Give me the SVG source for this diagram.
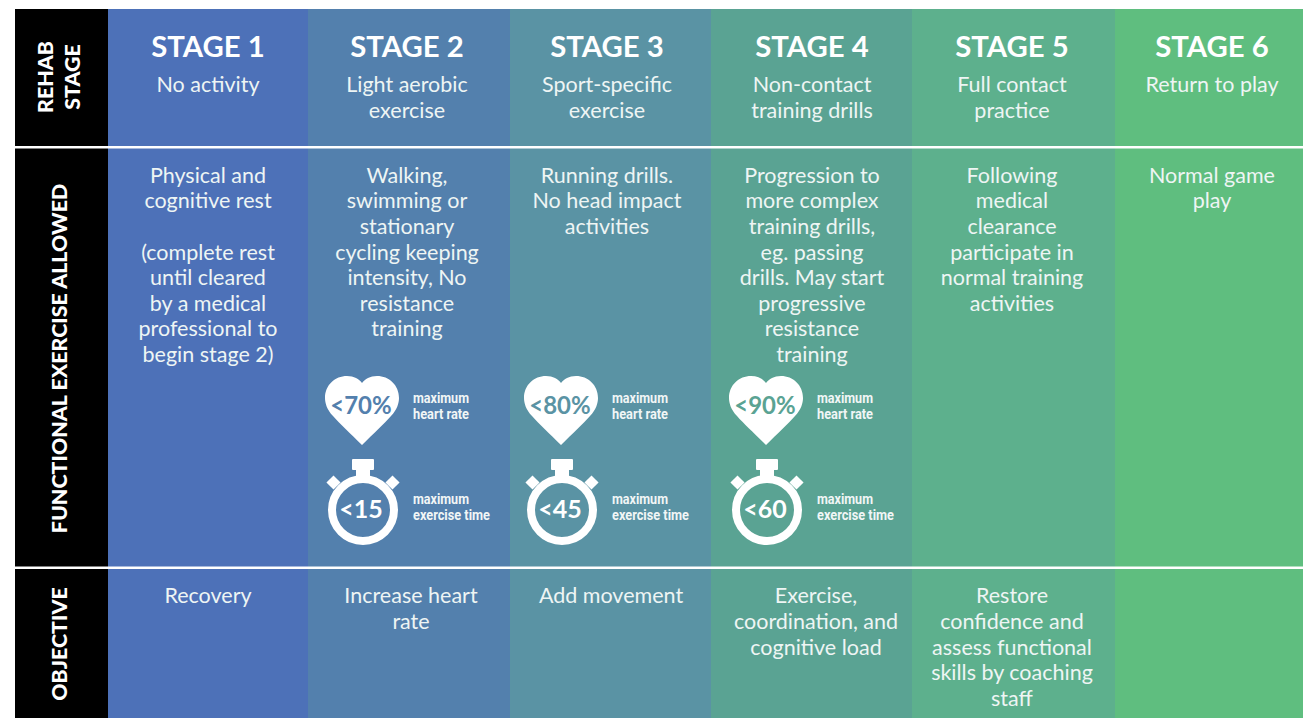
<svg xmlns="http://www.w3.org/2000/svg" xmlns:xlink="http://www.w3.org/1999/xlink" width="1303" height="718" viewBox="0 0 1303 718">
<style>
text{font-family:"Lato","Open Sans","Liberation Sans",sans-serif;fill:#fff}
.t{font-size:21.5px;text-anchor:middle;fill:#eef5f4}
.h{font-size:29.300px;font-weight:700;text-anchor:middle}
.s{font-size:21.400px;font-weight:900;text-anchor:middle}
.p{font-size:24px;font-weight:700;text-anchor:middle}
.m{font-size:25px;font-weight:700;text-anchor:middle}
.c{font-family:"Roboto","Liberation Sans",sans-serif;font-size:15.500px;font-weight:700;fill:#f1f6f6}
</style>
<defs>
<path id="heart" d="M362 445 C350 433 340 424 333 416 C327 410 325 403 325 398 C325 385 335 376 347 376 C354 376 359 379 362 383 C365 379 370 376 377 376 C389 376 399 385 399 398 C399 403 397 410 391 416 C384 424 374 433 362 445 Z" fill="#fff"/>
<g id="watch" fill="#fff">
<rect x="352" y="459" width="22" height="11" rx="1"/>
<rect x="356" y="469" width="14" height="7"/>
<rect x="-5" y="-5" width="10" height="10" transform="translate(333.500 482.500) rotate(45)"/>
<rect x="-5" y="-5" width="10" height="10" transform="translate(392.500 482.500) rotate(45)"/>
<circle cx="363" cy="510" r="31" fill="none" stroke="#fff" stroke-width="8"/>
</g>
</defs>
<rect width="1303" height="718" fill="#fff"/>
<g id="columns">
<rect x="15" y="9" width="93" height="709" fill="#000"/>
<rect x="108" y="9" width="200" height="709" fill="#4d71b8"/>
<rect x="308" y="9" width="202" height="709" fill="#5380ad"/>
<rect x="510" y="9" width="201" height="709" fill="#5a93a4"/>
<rect x="711" y="9" width="201" height="709" fill="#5aa393"/>
<rect x="912" y="9" width="203" height="709" fill="#5db08d"/>
<rect x="1115" y="9" width="188" height="709" fill="#5fbe7f"/>
</g>
<g id="rules" fill="#fff">
<rect x="15" y="146" width="1288" height="2.500"/>
<rect x="15" y="566.500" width="1288" height="2.500"/>
</g>
<g id="row-labels">
<text class="s" transform="translate(53 77) rotate(-90)">REHAB</text>
<text class="s" transform="translate(80 77) rotate(-90)">STAGE</text>
<text class="s" transform="translate(67 358.500) rotate(-90)">FUNCTIONAL EXERCISE ALLOWED</text>
<text class="s" transform="translate(67 644) rotate(-90)">OBJECTIVE</text>
</g>
<g id="stage-1">
<text class="h" x="208" y="57">STAGE 1</text>
<text class="t" x="208" y="92">No activity</text>
<text class="t" x="208"><tspan x="208" y="183">Physical and</tspan><tspan x="208" y="208">cognitive rest</tspan><tspan x="208" y="260">(complete rest</tspan><tspan x="208" y="285">until cleared</tspan><tspan x="208" y="311">by a medical</tspan><tspan x="208" y="336">professional to</tspan><tspan x="208" y="362">begin stage 2)</tspan></text>
<text class="t" x="208" y="603">Recovery</text>
</g>
<g id="stage-2">
<text class="h" x="407" y="57">STAGE 2</text>
<text class="t"><tspan x="407" y="92">Light aerobic</tspan><tspan x="407" y="118">exercise</tspan></text>
<text class="t"><tspan x="407" y="183">Walking,</tspan><tspan x="407" y="208">swimming or</tspan><tspan x="407" y="234">stationary</tspan><tspan x="407" y="260">cycling keeping</tspan><tspan x="407" y="285">intensity, No</tspan><tspan x="407" y="311">resistance</tspan><tspan x="407" y="336">training</tspan></text>
<use href="#heart"/>
<text class="p" x="361" y="414" style="fill:#5380ad">&lt;70%</text>
<use href="#watch"/>
<text class="m" x="361" y="518">&lt;15</text>
<text class="c"><tspan x="413" y="403" textLength="56" lengthAdjust="spacingAndGlyphs">maximum</tspan></text>
<text class="c"><tspan x="413" y="419" textLength="56" lengthAdjust="spacingAndGlyphs">heart rate</tspan></text>
<text class="c"><tspan x="413" y="504" textLength="56" lengthAdjust="spacingAndGlyphs">maximum</tspan></text>
<text class="c"><tspan x="413" y="520" textLength="77" lengthAdjust="spacingAndGlyphs">exercise time</tspan></text>
<text class="t"><tspan x="411" y="603">Increase heart</tspan><tspan x="411" y="629">rate</tspan></text>
</g>
<g id="stage-3">
<text class="h" x="607" y="57">STAGE 3</text>
<text class="t"><tspan x="607" y="92">Sport-specific</tspan><tspan x="607" y="118">exercise</tspan></text>
<text class="t"><tspan x="607" y="183">Running drills.</tspan><tspan x="607" y="208">No head impact</tspan><tspan x="607" y="234">activities</tspan></text>
<use href="#heart" x="199"/>
<text class="p" x="560" y="414" style="fill:#5a93a4">&lt;80%</text>
<use href="#watch" x="199"/>
<text class="m" x="560" y="518">&lt;45</text>
<text class="c"><tspan x="612" y="403" textLength="56" lengthAdjust="spacingAndGlyphs">maximum</tspan></text>
<text class="c"><tspan x="612" y="419" textLength="56" lengthAdjust="spacingAndGlyphs">heart rate</tspan></text>
<text class="c"><tspan x="612" y="504" textLength="56" lengthAdjust="spacingAndGlyphs">maximum</tspan></text>
<text class="c"><tspan x="612" y="520" textLength="77" lengthAdjust="spacingAndGlyphs">exercise time</tspan></text>
<text class="t" x="611" y="603">Add movement</text>
</g>
<g id="stage-4">
<text class="h" x="812" y="57">STAGE 4</text>
<text class="t"><tspan x="812" y="92">Non-contact</tspan><tspan x="812" y="118">training drills</tspan></text>
<text class="t"><tspan x="812" y="183">Progression to</tspan><tspan x="812" y="208">more complex</tspan><tspan x="812" y="234">training drills,</tspan><tspan x="812" y="260">eg. passing</tspan><tspan x="812" y="285">drills. May start</tspan><tspan x="812" y="311">progressive</tspan><tspan x="812" y="336">resistance</tspan><tspan x="812" y="362">training</tspan></text>
<use href="#heart" x="404"/>
<text class="p" x="765" y="414" style="fill:#5aa393">&lt;90%</text>
<use href="#watch" x="404"/>
<text class="m" x="765" y="518">&lt;60</text>
<text class="c"><tspan x="817" y="403" textLength="56" lengthAdjust="spacingAndGlyphs">maximum</tspan></text>
<text class="c"><tspan x="817" y="419" textLength="56" lengthAdjust="spacingAndGlyphs">heart rate</tspan></text>
<text class="c"><tspan x="817" y="504" textLength="56" lengthAdjust="spacingAndGlyphs">maximum</tspan></text>
<text class="c"><tspan x="817" y="520" textLength="77" lengthAdjust="spacingAndGlyphs">exercise time</tspan></text>
<text class="t"><tspan x="816" y="603">Exercise,</tspan><tspan x="816" y="629">coordination, and</tspan><tspan x="816" y="655">cognitive load</tspan></text>
</g>
<g id="stage-5">
<text class="h" x="1012" y="57">STAGE 5</text>
<text class="t"><tspan x="1012" y="92">Full contact</tspan><tspan x="1012" y="118">practice</tspan></text>
<text class="t"><tspan x="1012" y="183">Following</tspan><tspan x="1012" y="208">medical</tspan><tspan x="1012" y="234">clearance</tspan><tspan x="1012" y="260">participate in</tspan><tspan x="1012" y="285">normal training</tspan><tspan x="1012" y="311">activities</tspan></text>
<text class="t"><tspan x="1012" y="603">Restore</tspan><tspan x="1012" y="629">confidence and</tspan><tspan x="1012" y="655">assess functional</tspan><tspan x="1012" y="680">skills by coaching</tspan><tspan x="1012" y="706">staff</tspan></text>
</g>
<g id="stage-6">
<text class="h" x="1212" y="57">STAGE 6</text>
<text class="t" x="1212" y="92">Return to play</text>
<text class="t"><tspan x="1212" y="183">Normal game</tspan><tspan x="1212" y="208">play</tspan></text>
</g>
</svg>
